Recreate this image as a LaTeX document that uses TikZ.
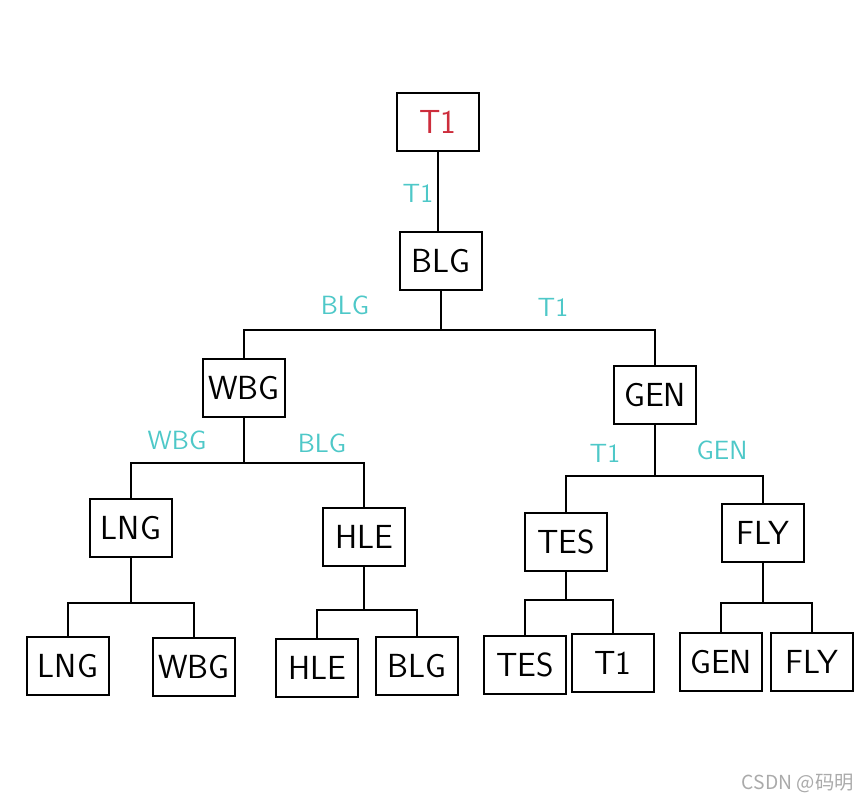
\documentclass[tikz,border=0pt]{standalone}
\usepackage{fontspec}
\newfontfamily\cjkfont{Noto Sans CJK SC}
\definecolor{pick}{RGB}{205,45,60}
\definecolor{side}{RGB}{78,200,200}
\definecolor{watergrey}{RGB}{170,170,170}

\begin{document}
\begin{tikzpicture}[x=0.02cm, y=-0.02cm,
    team/.style={draw, line width=1.3pt, minimum width=1.64cm, minimum height=1.16cm,
        inner sep=0pt, font=\sffamily\fontsize{19}{19}\selectfont},
    winner/.style={text=side, font=\sffamily\fontsize{15}{15}\selectfont},
    link/.style={line width=1pt}]

    \useasboundingbox (0,0) rectangle (865,800);

    % final and semi-finals
    \node[team, text=pick] (t1) at (438,122) {T1};
    \node[team] (blg) at (441,261) {BLG};
    \node[team] (wbg) at (244,388) {WBG};
    \node[team] (gen) at (655,395) {GEN};

    % quarter-finals
    \node[team] (lng) at (131,528) {LNG};
    \node[team] (hle) at (364,537) {HLE};
    \node[team] (tes) at (566,542) {TES};
    \node[team] (fly) at (763,533) {FLY};

    % first round
    \node[team] (lngA) at (68,666) {LNG};
    \node[team] (wbgA) at (194,667) {WBG};
    \node[team] (hleA) at (317,668) {HLE};
    \node[team] (blgA) at (417,666) {BLG};
    \node[team] (tesA) at (525,665) {TES};
    \node[team] (t1A) at (613,663) {T1};
    \node[team] (genA) at (721,662) {GEN};
    \node[team] (flyA) at (812,662) {FLY};

    % brackets
    \draw[link] (t1.south) -- (t1.south |- blg.north);
    \coordinate (jBlg) at (441,330);
    \coordinate (jWbg) at (244,463);
    \coordinate (jGen) at (655,476);
    \coordinate (jLng) at (131,603);
    \coordinate (jHle) at (364,610);
    \coordinate (jTes) at (566,600);
    \coordinate (jFly) at (763,603);

    \draw[link] (blg) -- (jBlg);
    \draw[link] (wbg.north) |- (jBlg) -| (gen.north);
    \draw[link] (wbg) -- (jWbg);
    \draw[link] (lng.north) |- (jWbg) -| (hle.north);
    \draw[link] (gen) -- (jGen);
    \draw[link] (tes.north) |- (jGen) -| (fly.north);
    \draw[link] (lng) -- (jLng);
    \draw[link] (lngA.north) |- (jLng) -| (wbgA.north);
    \draw[link] (hle) -- (jHle);
    \draw[link] (hleA.north) |- (jHle) -| (blgA.north);
    \draw[link] (tes) -- (jTes);
    \draw[link] (tesA.north) |- (jTes) -| (t1A.north);
    \draw[link] (fly) -- (jFly);
    \draw[link] (genA.north) |- (jFly) -| (flyA.north);

    % winners
    \node[winner] (wFinal) at (418,193) {T1};
    \node[winner] (wBlgL) at (345,305) {BLG};
    \node[winner] (wBlgR) at (553,307) {T1};
    \node[winner] (wWbgL) at (177,440) {WBG};
    \node[winner] (wWbgR) at (322,443) {BLG};
    \node[winner] (wGenL) at (605,453) {T1};
    \node[winner] (wGenR) at (722,450) {GEN};

    \node[text=watergrey, anchor=east, font=\cjkfont\fontsize{11}{11}\selectfont] (csdn) at (860,783) {CSDN @码明};

\end{tikzpicture}
\end{document}
